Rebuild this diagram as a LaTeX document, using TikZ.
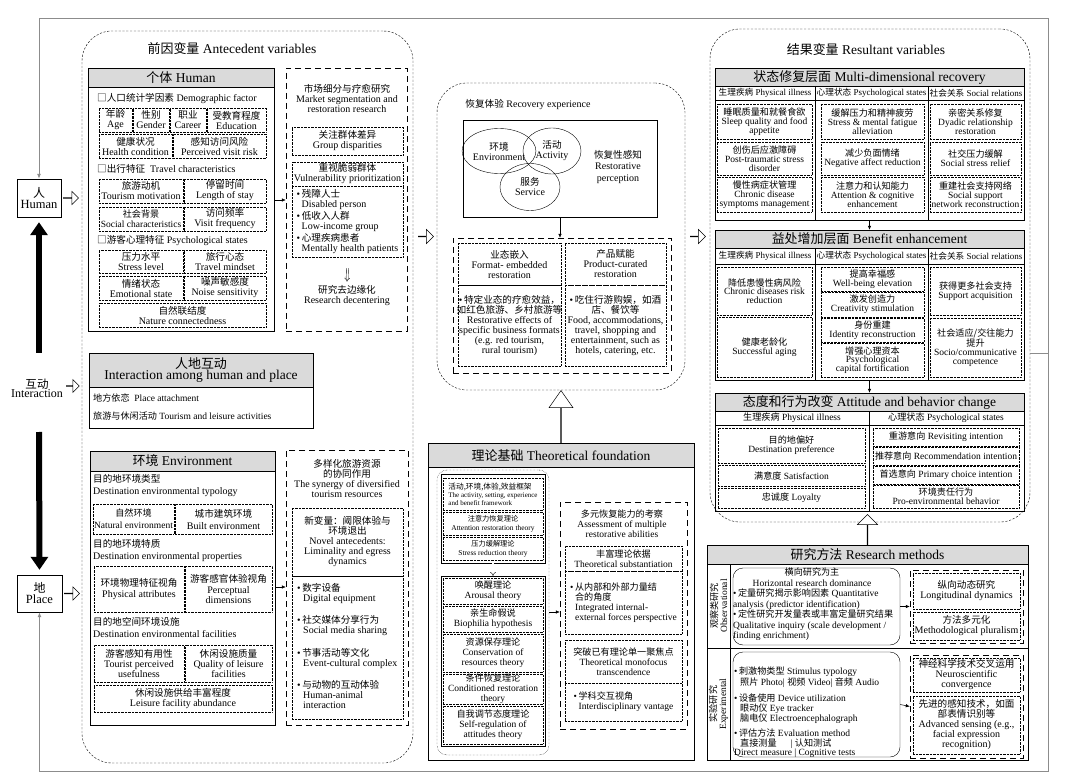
\documentclass[tikz,border=0pt]{standalone}
\usepackage{fontspec}
\setmainfont{Liberation Serif}
\newfontfamily\cjk[Scale=0.96]{Noto Sans CJK SC}
\newcommand{\zh}[1]{{\cjk #1}}
\usetikzlibrary{arrows.meta,fit,shapes.arrows,shapes.geometric,positioning}
\definecolor{hdrgray}{HTML}{DADADA}
\definecolor{framegray}{HTML}{8C8C8C}

\begin{document}
\begin{tikzpicture}[x=1pt, y=-1pt]
  \tikzset{
    frame/.style={draw=framegray, line width=0.9pt},
    hdr/.style={draw, fill=hdrgray, inner sep=0pt},
    hl/.style={inner sep=0pt, align=center, font=\fontsize{13.5}{12}\selectfont},
    sbox/.style={draw, inner sep=0pt},
    dbox/.style={draw, densely dotted, inner sep=0pt},
    lab/.style={inner sep=0pt, align=center, font=\fontsize{10}{10}\selectfont},
    tl/.style={lab, font=\fontsize{9.5}{8.8}\selectfont},
    dashbox/.style={draw, dash pattern=on 6pt off 4pt, inner sep=0pt},
    group/.style={draw, dash pattern=on 2.2pt off 1.6pt, rounded corners=30pt, inner sep=0pt},
    txt/.style={inner sep=0pt, align=center, font=\fontsize{10}{10}\selectfont},
    ltxt/.style={inner sep=0pt, align=left, anchor=west, font=\fontsize{10}{10}\selectfont},
    subhdr/.style={inner sep=0pt, font=\fontsize{9}{9}\selectfont},
    conn/.style={-{Latex[length=4pt,width=3.5pt]}, line width=0.5pt},
    hollow/.style={single arrow, draw, fill=white, inner sep=0pt, line width=0.5pt},
    bigarrow/.style={line width=6pt, -{Triangle[length=13pt,width=17pt]}}
  }
  \useasboundingbox (0,0) rectangle (1080,778);
  \fill[white] (0,0) rectangle (1080,778);

  % 人 / 互动 / 地
  \node[sbox, fit={(17,179)(61,217)}, label={[lab, font=\fontsize{12.5}{11}\selectfont]center:{\zh{人}\\Human}}] (human) {};
  \node[sbox, fit={(17,575)(62,612)}, label={[lab, font=\fontsize{12.5}{11}\selectfont]center:{\zh{地}\\Place}}] (place) {};
  \node[txt, font=\fontsize{12}{9}\selectfont] (interact) at (37,388) {\zh{互动}\\Interaction};
  \coordinate (upstart) at (39,353);
  \coordinate (downstart) at (39,432);
  \draw[bigarrow] (upstart) -- ([yshift=-5pt]human.south);
  \draw[bigarrow] (downstart) -- ([yshift=5pt]place.north);
  \node[hollow, anchor=tail, minimum height=15pt, minimum width=13pt, single arrow head extend=3.5pt] (hhuman) at ([xshift=2pt]human.east) {};
  \node[hollow, anchor=tail, minimum height=13pt, minimum width=13pt, single arrow head extend=3.5pt] (hinter) at (66,386) {};
  \node[hollow, anchor=tail, minimum height=15pt, minimum width=13pt, single arrow head extend=3.5pt] (hplace) at ([xshift=2pt]place.east) {};

  % 前因变量
  \node[group, fit={(82,31)(413,763)}] (antec) {};
  \node[txt, font=\fontsize{13.5}{13}\selectfont] (antectitle) at (232,49) {\zh{前因变量} Antecedent variables};

  % 个体 Human
  \node[sbox, fit={(88,68)(274,331)}] (indiv) {};
  \node[hdr, fit={(88,68)(274,87)}, label={[hl]center:{\zh{个体} Human}}] (indivh) {};
  \node[ltxt] (demo) at (97,99) {\zh{□人口统计学因素} Demographic factor};
  \node[dbox, fit={(99,108)(132,132)}, label={[lab]center:{\zh{年龄}\\Age}}] (age) {};
  \node[dbox, fit={(133,108)(169,132)}, label={[lab]center:{\zh{性别}\\Gender}}] (gender) {};
  \node[dbox, fit={(170,108)(206,132)}, label={[lab]center:{\zh{职业}\\Career}}] (career) {};
  \node[dbox, fit={(207,108)(266,132)}, label={[lab]center:{\zh{受教育程度}\\Education}}] (edu) {};
  \node[dbox, fit={(99,134)(172,158)}, label={[lab]center:{\zh{健康状况}\\Health condition}}] (health) {};
  \node[dbox, fit={(173,134)(266,158)}, label={[lab]center:{\zh{感知访问风险}\\Perceived visit risk}}] (risk) {};
  \node[ltxt] (travel) at (97,169) {\zh{□出行特征}\ \ Travel characteristics};
  \node[dbox, fit={(99,179)(183,203)}, label={[lab]center:{\zh{旅游动机}\\Tourism motivation}}] (motiv) {};
  \node[dbox, fit={(184,179)(266,203)}, label={[lab]center:{\zh{停留时间}\\Length of stay}}] (stay) {};
  \node[dbox, fit={(99,207)(183,231)}, label={[lab, font=\fontsize{9.5}{10}\selectfont]center:{\zh{社会背景}\\Social characteristics}}] (social) {};
  \node[dbox, fit={(184,207)(266,231)}, label={[lab]center:{\zh{访问频率}\\Visit frequency}}] (freq) {};
  \node[ltxt] (psych) at (97,241) {\zh{□游客心理特征} Psychological states};
  \node[dbox, fit={(99,250)(183,273)}, label={[lab]center:{\zh{压力水平}\\Stress level}}] (stress) {};
  \node[dbox, fit={(184,250)(266,273)}, label={[lab]center:{\zh{旅行心态}\\Travel mindset}}] (mindset) {};
  \node[dbox, fit={(99,276)(183,300)}, label={[lab]center:{\zh{情绪状态}\\Emotional state}}] (emotion) {};
  \node[dbox, fit={(184,276)(266,300)}, label={[lab]center:{\zh{噪声敏感度}\\Noise sensitivity}}] (noise) {};
  \node[dbox, fit={(99,303)(266,327)}, label={[lab]center:{\zh{自然联结度}\\Nature connectedness}}] (nature) {};

  % 市场细分与疗愈研究
  \node[dashbox, fit={(286,68)(407,331)}] (market) {};
  \node[txt] (markettitle) at (347,98) {\zh{市场细分与疗愈研究}\\Market segmentation and\\restoration research};
  \node[dbox, fit={(292,127)(403,155)}, label={[lab]center:{\zh{关注群体差异}\\Group disparities}}] (groupdiff) {};
  \node[dbox, fit={(292,162)(403,186)}, label={[lab]center:{\zh{重视脆弱群体}\\Vulnerability prioritization}}] (vuln) {};
  \node[dbox, fit={(292,186)(403,257)}, label={[lab, align=left]center:{•\,\zh{残障人士}\\\hspace*{5pt}Disabled person\\[1pt]•\,\zh{低收入人群}\\\hspace*{5pt}Low-income group\\[1pt]•\,\zh{心理疾病患者}\\\hspace*{5pt}Mentally health patients}}] (vulnlist) {};
  \node[txt] (decenter) at (347,296) {\zh{研究去边缘化}\\Research decentering};
  \draw[double, double distance=1.6pt, line width=0.4pt, -Implies] ([yshift=-11pt]vulnlist.south) -- ([yshift=4pt]decenter.north);
  \coordinate (rowhuman) at (0,200);
  \draw[conn] (indiv.east |- rowhuman) -- (market.west |- rowhuman);

  % 人地互动
  \node[sbox, fit={(89,353)(313,428)}] (interbox) {};
  \node[hdr, fit={(89,353)(313,387)}, label={[hl, font=\fontsize{13.5}{11.5}\selectfont]center:{\zh{人地互动}\\Interaction among human and place}}] (interh) {};
  \node[ltxt, font=\fontsize{9.5}{10}\selectfont] (attach) at (93,398) {\zh{地方依恋}\ \ Place attachment};
  \node[ltxt, font=\fontsize{9.5}{10}\selectfont] (leisure) at (93,416) {\zh{旅游与休闲活动} Tourism and leisure activities};

  % 环境 Environment
  \node[sbox, fit={(90,451)(275,725)}] (envbox) {};
  \node[hdr, fit={(90,451)(275,471)}, label={[hl]center:{\zh{环境} Environment}}] (envh) {};
  \node[ltxt, anchor=north west, font=\fontsize{10}{12}\selectfont] (typology) at (93,474) {\zh{目的地环境类型}\\Destination environmental typology};
  \node[dbox, fit={(93,504)(174,534)}, label={[lab, font=\fontsize{9.5}{12}\selectfont]center:{\zh{自然环境}\\Natural environment}}] (natural) {};
  \node[dbox, fit={(175,504)(272,534)}, label={[lab, font=\fontsize{10}{12}\selectfont]center:{\zh{城市建筑环境}\\Built environment}}] (built) {};
  \node[ltxt, anchor=north west, font=\fontsize{10}{12}\selectfont] (properties) at (93,539) {\zh{目的地环境特质}\\Destination environmental properties};
  \node[dbox, fit={(94,566)(184,612)}, label={[lab, font=\fontsize{10}{11}\selectfont]center:{\zh{环境物理特征视角}\\Physical attributes}}] (physical) {};
  \node[dbox, fit={(185,566)(272,612)}, label={[lab, font=\fontsize{10}{10.5}\selectfont]center:{\zh{游客感官体验视角}\\Perceptual\\dimensions}}] (perceptual) {};
  \node[ltxt, anchor=north west, font=\fontsize{10}{12}\selectfont] (facilities) at (93,617) {\zh{目的地空间环境设施}\\Destination environmental facilities};
  \node[dbox, fit={(94,645)(184,682)}, label={[lab]center:{\zh{游客感知有用性}\\Tourist perceived\\usefulness}}] (useful) {};
  \node[dbox, fit={(185,645)(272,682)}, label={[lab]center:{\zh{休闲设施质量}\\Quality of leisure\\facilities}}] (quality) {};
  \node[dbox, fit={(94,685)(272,712)}, label={[lab]center:{\zh{休闲设施供给丰富程度}\\Leisure facility abundance}}] (abundance) {};

  % 多样化旅游资源
  \node[dashbox, fit={(286,450)(408,725)}] (synergy) {};
  \node[txt] (synergytitle) at (347,479) {\zh{多样化旅游资源}\\\zh{的协同作用}\\The synergy of diversified\\tourism resources};
  \node[dbox, fit={(292,508)(403,576)}, label={[lab]center:{\zh{新变量：阈限体验与}\\\zh{环境退出}\\Novel antecedents:\\Liminality and egress\\dynamics}}] (novel) {};
  \node[dbox, fit={(292,576)(403,719)}] (novellist) {};
  \node[ltxt, anchor=north west] (digital) at (297,583) {•\,\zh{数字设备}\\\hspace*{6pt}Digital equipment};
  \node[ltxt, anchor=north west] (media) at (297,615) {•\,\zh{社交媒体分享行为}\\\hspace*{6pt}Social media sharing};
  \node[ltxt, anchor=north west] (event) at (297,648) {•\,\zh{节事活动等文化}\\\hspace*{6pt}Event-cultural complex};
  \node[ltxt, anchor=north west] (animal) at (297,680) {•\,\zh{与动物的互动体验}\\\hspace*{6pt}Human-animal\\\hspace*{6pt}interaction};
  \coordinate (rowenv) at (0,587);
  \draw[conn] (envbox.east |- rowenv) -- (synergy.west |- rowenv);

  % 恢复体验
  \node[group, fit={(437,83)(685,390)}] (recov) {};
  \node[txt] (recovtitle) at (528,105) {\zh{恢复体验} Recovery experience};
  \node[sbox, fit={(463,120)(657,217)}] (percbox) {};
  \node[draw, ellipse, inner sep=0pt, minimum width=62pt, minimum height=45pt, align=center, font=\fontsize{10}{10}\selectfont] (envell) at (499,151) {\zh{环境}\\Environment};
  \node[draw, ellipse, inner sep=0pt, minimum width=58pt, minimum height=46pt, align=center, font=\fontsize{10}{10}\selectfont] (actell) at (552,151) {\zh{活动}\\Activity};
  \node[draw, ellipse, inner sep=0pt, minimum width=60pt, minimum height=47pt, align=center, font=\fontsize{10}{10}\selectfont] (servell) at (530,187) {\zh{服务}\\Service};
  \node[txt, font=\fontsize{10}{11.5}\selectfont] (restperc) at (618,167) {\zh{恢复性感知}\\Restorative\\perception};
  \node[dashbox, fit={(453,238)(671,373)}] (formats) {};
  \draw[conn] (percbox.south) -- (percbox.south |- formats.north);
  \node[dbox, fit={(458,243)(561,285)}, label={[lab]center:{\zh{业态嵌入}\\Format- embedded\\restoration}}] (embedded) {};
  \node[dbox, fit={(458,285)(561,366)}, label={[lab]center:{•\,\zh{特定业态的疗愈效益，}\\\zh{如红色旅游、乡村旅游等}\\Restorative effects of\\specific business formats\\(e.g. red tourism,\\rural tourism)}}] (embeddedtxt) {};
  \node[dbox, fit={(565,243)(666,285)}, label={[lab]center:{\zh{产品赋能}\\Product-curated\\restoration}}] (curated) {};
  \node[dbox, fit={(565,285)(666,366)}, label={[lab]center:{•\,\zh{吃住行游购娱，如酒}\\\zh{店、餐饮等}\\Food, accommodations,\\travel, shopping and\\entertainment, such as\\hotels, catering, etc.}}] (curatedtxt) {};
  \node[hollow, anchor=tail, minimum height=15pt, minimum width=14pt, single arrow head extend=3.5pt] (hantec) at ([xshift=5pt]antec.east |- recov.west) {};
  \node[hollow, anchor=tail, minimum height=15pt, minimum width=14pt, single arrow head extend=3.5pt] (hrecov) at ([xshift=5pt]recov.east) {};

  % 理论基础
  \node[sbox, fit={(428,443)(694,760)}] (theory) {};
  \node[hdr, fit={(428,443)(694,467)}, label={[hl]center:{\zh{理论基础} Theoretical foundation}}] (theoryh) {};
  \node[hollow, anchor=tail, shape border rotate=90, minimum height=52pt, minimum width=24pt, single arrow head extend=8pt, single arrow tip angle=70] (htheory) at (theory.north) {};
  \node[draw, densely dotted, rounded corners=10pt, inner sep=0pt, fit={(437,470)(549,755)}] (theogroup) {};
  \node[sbox, fit={(441,474)(545,563)}] (theotop) {};
  \node[dbox, fit={(443,478)(543,510)}, label={[lab, align=left, font=\fontsize{7}{8}\selectfont]center:{\zh{\fontsize{8}{8}\selectfont 活动,环境,体验,效益框架}\\The activity, setting, experience\\and benefit framework}}] (framework) {};
  \node[dbox, fit={(443,512)(543,535)}, label={[lab, font=\fontsize{7.5}{9}\selectfont]center:{\zh{注意力恢复理论}\\Attention restoration theory}}] (attention) {};
  \node[dbox, fit={(443,537)(543,560)}, label={[lab, font=\fontsize{7.5}{9}\selectfont]center:{\zh{压力缓解理论}\\Stress reduction theory}}] (stressred) {};
  \node[sbox, fit={(441,576)(545,746)}] (theobot) {};
  \draw[double, double distance=1.6pt, line width=0.4pt, -Implies] (theotop.south) -- (theobot.north);
  \node[dbox, fit={(443,578)(543,604)}, label={[lab, font=\fontsize{9.5}{10}\selectfont]center:{\zh{唤醒理论}\\Arousal theory}}] (arousal) {};
  \node[dbox, fit={(443,606)(543,632)}, label={[lab, font=\fontsize{9.5}{10}\selectfont]center:{\zh{亲生命假说}\\Biophilia hypothesis}}] (biophilia) {};
  \node[dbox, fit={(443,634)(543,672)}, label={[lab, font=\fontsize{9.5}{10}\selectfont]center:{\zh{资源保存理论}\\Conservation of\\resources theory}}] (conserv) {};
  \node[dbox, fit={(443,674)(543,704)}, label={[lab, font=\fontsize{9.5}{10}\selectfont]center:{\zh{条件恢复理论}\\Conditioned restoration\\theory}}] (condit) {};
  \node[dbox, fit={(443,706)(543,744)}, label={[lab, font=\fontsize{9.5}{10}\selectfont]center:{\zh{自我调节态度理论}\\Self-regulation of\\attitudes theory}}] (selfreg) {};
  \node[dashbox, fit={(560,502)(687,729)}] (assess) {};
  \coordinate (rowtheory) at (0,612);
  \draw[conn] (theogroup.east |- rowtheory) -- (assess.west |- rowtheory);
  \node[txt, font=\fontsize{9.5}{10}\selectfont] (assesstitle) at (622,524) {\zh{多元恢复能力的考察}\\Assessment of multiple\\restorative abilities};
  \node[dbox, fit={(565,546)(682,571)}, label={[lab, font=\fontsize{9.5}{10}\selectfont]center:{\zh{丰富理论依据}\\Theoretical substantiation}}] (substant) {};
  \node[dbox, fit={(565,571)(682,634)}, label={[lab, align=left, font=\fontsize{9.5}{10}\selectfont]center:{•\,\zh{从内部和外部力量结}\\\hspace*{5pt}\zh{合的角度}\\\hspace*{5pt}Integrated internal-\\\hspace*{5pt}external forces perspective}}] (forces) {};
  \node[dbox, fit={(565,640)(682,683)}, label={[lab, font=\fontsize{9.5}{10}\selectfont]center:{\zh{突破已有理论单一聚焦点}\\Theoretical monofocus\\transcendence}}] (monofocus) {};
  \node[dbox, fit={(565,683)(682,721)}, label={[lab, align=left, font=\fontsize{9.5}{10}\selectfont]center:{•\,\zh{学科交互视角}\\\hspace*{5pt}Interdisciplinary vantage}}] (interdisc) {};

  % 结果变量
  \node[group, fit={(710,29)(1030,522)}] (resvar) {};
  \node[txt, font=\fontsize{13.5}{13}\selectfont] (resvartitle) at (866,50) {\zh{结果变量} Resultant variables};

  % 状态修复层面
  \node[sbox, fit={(715,68)(1024,220)}] (tabA) {};
  \node[hdr, fit={(715,68)(1024,86)}, label={[hl]center:{\zh{状态修复层面} Multi-dimensional recovery}}] (tabAh) {};
  \draw (715,100) -- (1024,100);
  \draw (815,86) -- (815,220);
  \draw (928,86) -- (928,220);
  \node[subhdr] (tabAs1) at (765,93) {\zh{生理疾病} Physical illness};
  \node[subhdr] (tabAs2) at (871.5,93) {\zh{心理状态} Psychological states};
  \node[subhdr] (tabAs3) at (976,93) {\zh{社会关系} Social relations};
  \node[dbox, fit={(717,104)(812,139)}, label={[tl]center:{\zh{睡眠质量和就餐食欲}\\Sleep quality and food\\appetite}}] (sleep) {};
  \node[dbox, fit={(717,142)(812,175)}, label={[tl]center:{\zh{创伤后应激障碍}\\Post-traumatic stress\\disorder}}] (ptsd) {};
  \node[dbox, fit={(717,177)(812,212)}, label={[tl]center:{\zh{慢性病症状管理}\\Chronic disease\\symptoms management}}] (chronic) {};
  \node[dbox, fit={(821,104)(924,139)}, label={[tl]center:{\zh{缓解压力和精神疲劳}\\Stress \& mental fatigue\\alleviation}}] (fatigue) {};
  \node[dbox, fit={(821,142)(924,175)}, label={[tl]center:{\zh{减少负面情绪}\\Negative affect reduction}}] (negaff) {};
  \node[dbox, fit={(821,177)(924,212)}, label={[tl]center:{\zh{注意力和认知能力}\\Attention \& cognitive\\enhancement}}] (cognit) {};
  \node[dbox, fit={(930,104)(1021,139)}, label={[tl]center:{\zh{亲密关系修复}\\Dyadic relationship\\restoration}}] (dyadic) {};
  \node[dbox, fit={(930,142)(1021,175)}, label={[tl]center:{\zh{社交压力缓解}\\Social stress relief}}] (socstress) {};
  \node[dbox, fit={(930,177)(1021,212)}, label={[tl]center:{\zh{重建社会支持网络}\\Social support\\network reconstruction}}] (network) {};

  % 益处增加层面
  \node[sbox, fit={(715,230)(1024,380)}] (tabB) {};
  \node[hdr, fit={(715,230)(1024,248)}, label={[hl]center:{\zh{益处增加层面} Benefit enhancement}}] (tabBh) {};
  \draw[conn] (tabA.south) -- (tabB.north);
  \draw (715,264) -- (1024,264);
  \draw (815,248) -- (815,380);
  \draw (928,248) -- (928,380);
  \node[subhdr] (tabBs1) at (765,256) {\zh{生理疾病} Physical illness};
  \node[subhdr] (tabBs2) at (871.5,256) {\zh{心理状态} Psychological states};
  \node[subhdr] (tabBs3) at (976,256) {\zh{社会关系} Social relations};
  \node[dbox, fit={(717,267)(812,315)}, label={[tl]center:{\zh{降低患慢性病风险}\\Chronic diseases risk\\reduction}}] (riskred) {};
  \node[dbox, fit={(717,317)(812,377)}, label={[tl]center:{\zh{健康老龄化}\\Successful aging}}] (aging) {};
  \node[dbox, fit={(821,267)(924,291)}, label={[tl]center:{\zh{提高幸福感}\\Well-being elevation}}] (wellbeing) {};
  \node[dbox, fit={(821,292)(924,317)}, label={[tl]center:{\zh{激发创造力}\\Creativity stimulation}}] (creativ) {};
  \node[dbox, fit={(821,318)(924,342)}, label={[tl]center:{\zh{身份重建}\\Identity reconstruction}}] (identity) {};
  \node[dbox, fit={(821,343)(924,377)}, label={[tl]center:{\zh{增强心理资本}\\Psychological\\capital fortification}}] (capital) {};
  \node[dbox, fit={(930,267)(1021,315)}, label={[tl]center:{\zh{获得更多社会支持}\\Support acquisition}}] (support) {};
  \node[dbox, fit={(930,318)(1021,377)}, label={[tl]center:{\zh{社会适应/交往能力}\\\zh{提升}\\Socio/communicative\\competence}}] (competence) {};

  % 态度和行为改变
  \node[sbox, fit={(715,393)(1024,511)}] (tabC) {};
  \node[hdr, fit={(715,393)(1024,411)}, label={[hl]center:{\zh{态度和行为改变} Attitude and behavior change}}] (tabCh) {};
  \draw[conn] (tabB.south) -- (tabC.north);
  \draw (715,425) -- (1024,425);
  \draw (869,411) -- (869,511);
  \node[subhdr, font=\fontsize{9.5}{9}\selectfont] (tabCs1) at (792,418) {\zh{生理疾病} Physical illness};
  \node[subhdr, font=\fontsize{9.5}{9}\selectfont] (tabCs2) at (946,418) {\zh{心理状态} Psychological states};
  \node[dbox, fit={(718,428)(865,463)}, label={[tl]center:{\zh{目的地偏好}\\Destination preference}}] (prefer) {};
  \node[dbox, fit={(718,465)(865,486)}, label={[tl]center:{\zh{满意度} Satisfaction}}] (satisf) {};
  \node[dbox, fit={(718,488)(865,508)}, label={[tl]center:{\zh{忠诚度} Loyalty}}] (loyal) {};
  \node[dbox, fit={(873,428)(1019,446)}, label={[tl]center:{\zh{重游意向} Revisiting intention}}] (revisit) {};
  \node[dbox, fit={(873,447)(1019,465)}, label={[tl]center:{\zh{推荐意向} Recommendation intention}}] (recommend) {};
  \node[dbox, fit={(873,466)(1019,484)}, label={[tl]center:{\zh{首选意向} Primary choice intention}}] (primary) {};
  \node[dbox, fit={(873,485)(1019,508)}, label={[tl]center:{\zh{环境责任行为}\\Pro-environmental behavior}}] (proenv) {};

  % 研究方法
  \node[sbox, fit={(707,545)(1028,760)}] (methods) {};
  \node[hdr, fit={(707,545)(1028,564)}, label={[hl]center:{\zh{研究方法} Research methods}}] (methodsh) {};
  \node[hollow, anchor=tail, shape border rotate=90, minimum height=30pt, minimum width=20pt, single arrow head extend=5.5pt] (hmethods) at (methods.north) {};
  \draw (730,564) -- (730,760);
  \draw (707,648) -- (1028,648);
  \node[txt, rotate=90, font=\fontsize{9.5}{9.5}\selectfont] (obslabel) at (718.5,606) {\zh{观察类研究}\\Observational};
  \node[txt, rotate=90, font=\fontsize{9.5}{9.5}\selectfont] (explabel) at (718.5,704) {\zh{实验研究}\\Experimental};
  \node[draw, rounded corners=10pt, inner sep=0pt, fit={(733,568)(900,645)}] (obsbox) {};
  \node[txt, font=\fontsize{9.5}{10.5}\selectfont] (horiz) at (812,577) {\zh{横向研究为主}\\Horizontal research dominance};
  \node[ltxt, anchor=north west, font=\fontsize{9.5}{10.5}\selectfont] (quant) at (733,589) {•\,\zh{定量研究揭示影响因素} Quantitative\\analysis (predictor identification)\\•\,\zh{定性研究开发量表或丰富定量研究结果}\\Qualitative inquiry (scale development /\\finding enrichment)};
  \node[dashbox, fit={(910,570)(1023,643)}] (obsdash) {};
  \draw[conn] (obsbox.east) -- (obsdash.west);
  \node[dbox, fit={(913,573)(1020,609)}, label={[lab]center:{\zh{纵向动态研究}\\Longitudinal dynamics}}] (longit) {};
  \node[dbox, fit={(913,612)(1020,640)}, label={[lab]center:{\zh{方法多元化}\\Methodological pluralism}}] (plural) {};
  \node[draw, rounded corners=10pt, inner sep=0pt, fit={(733,652)(900,757)}] (expbox) {};
  \node[ltxt, anchor=north west, font=\fontsize{9.5}{9.3}\selectfont] (stimulus) at (734,667) {•\,\zh{刺激物类型} Stimulus typology\\\hspace*{6pt}\zh{照片} Photo| \zh{视频} Video| \zh{音频} Audio};
  \node[ltxt, anchor=north west, font=\fontsize{9.5}{9.3}\selectfont] (device) at (734,694) {•\,\zh{设备使用} Device utilization\\\hspace*{6pt}\zh{眼动仪} Eye tracker\\\hspace*{6pt}\zh{脑电仪} Electroencephalograph};
  \node[ltxt, anchor=north west, font=\fontsize{9.5}{9.3}\selectfont] (evalm) at (734,729) {•\,\zh{评估方法} Evaluation method\\\hspace*{6pt}\zh{直接测量}\hspace{14pt}| \zh{认知测试}\\Direct measure | Cognitive tests};
  \node[dashbox, fit={(910,655)(1023,758)}] (expdash) {};
  \draw[conn] (expbox.east) -- (expdash.west);
  \node[dbox, fit={(913,658)(1020,692)}, label={[lab]center:{\zh{神经科学技术交叉运用}\\Neuroscientific\\convergence}}] (neuro) {};
  \node[dbox, fit={(913,696)(1020,754)}, label={[lab]center:{\zh{先进的感知技术，如面}\\\zh{部表情识别等}\\Advanced sensing (e.g.,\\facial expression\\recognition)}}] (sensing) {};

  % 外框反馈
  \coordinate (ftop) at (0,18);
  \coordinate (fbot) at (0,771);
  \coordinate (fright) at (1048,353);
  \draw[frame] (resvar.east |- fright) -- (fright);
  \draw[frame, -{Latex[length=5pt,width=4pt]}] (fright) |- (human.north |- ftop) -- (human.north);
  \draw[frame, -{Latex[length=5pt,width=4pt]}] (fright) |- (place.south |- fbot) -- (place.south);
\end{tikzpicture}
\end{document}
